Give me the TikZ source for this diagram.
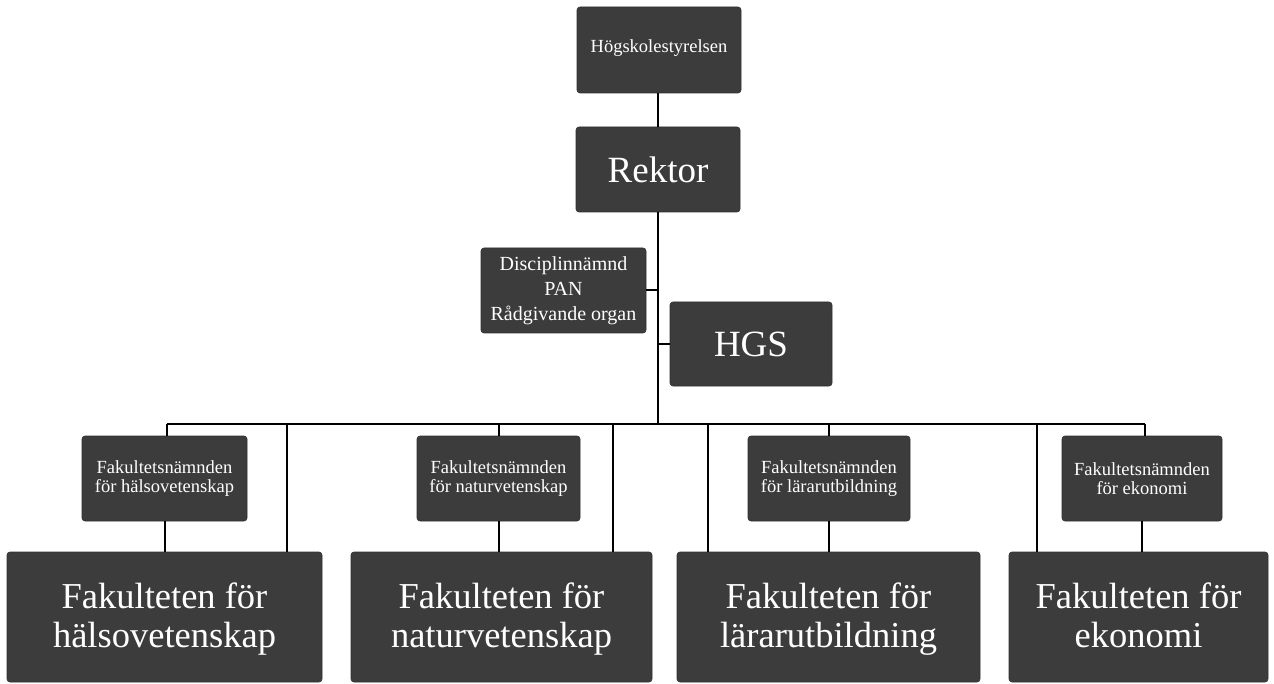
\documentclass[tikz,border=0pt]{standalone}
\usepackage{fontspec}
\setmainfont{Liberation Serif}
\newfontfamily\orgserif{Liberation Serif}
\definecolor{boxgray}{RGB}{60,60,60}
\tikzset{
  orgbox/.style={fill=boxgray, draw=boxgray!80!black, line width=0.6pt, rounded corners=3pt,
    text=white, align=center, inner sep=0pt, anchor=center},
  smalltext/.style={font=\orgserif\fontsize{18.5}{23}\selectfont},
  disctext/.style={font=\orgserif\fontsize{20}{25}\selectfont},
  midtext/.style={font=\orgserif\fontsize{18.5}{19}\selectfont},
  bigtext/.style={font=\orgserif\fontsize{37}{40}\selectfont},
  hugelabel/.style={text=white, align=center, inner sep=0pt, yshift=-2pt,
    font=\orgserif\fontsize{36.5}{39}\selectfont},
  conn/.style={draw=black, line width=2pt}
}
\begin{document}
\begin{tikzpicture}[x=1pt,y=-1pt]
\useasboundingbox (0,0) rectangle (1274,684);
% top
\node[orgbox, smalltext, minimum width=164pt, minimum height=86pt, text height=13pt, text depth=8pt] (hsty) at (659,50) {Högskolestyrelsen};
\node[orgbox, bigtext, minimum width=164pt, minimum height=85pt] (rektor) at (658,169.5) {Rektor};
\node[orgbox, disctext, minimum width=165pt, minimum height=85pt] (disc) at (563.5,290.5) {Disciplinnämnd\\PAN\\Rådgivande organ};
\node[orgbox, bigtext, minimum width=162pt, minimum height=84pt] (hgs) at (751,344) {HGS};
% nämnder
\node[orgbox, midtext, minimum width=165pt, minimum height=85pt] (n1) at (164.5,478.5) {Fakultetsnämnden\\för hälsovetenskap};
\node[orgbox, midtext, minimum width=163pt, minimum height=85pt] (n2) at (498.5,478.5) {Fakultetsnämnden\\för naturvetenskap};
\node[orgbox, midtext, minimum width=162pt, minimum height=85pt] (n3) at (829,478.5) {Fakultetsnämnden\\för lärarutbildning};
\node[orgbox, midtext, minimum width=160pt, minimum height=85pt] (n4) at (1142,478.5) {Fakultetsnämnden\\för ekonomi};
% fakulteter
\node[orgbox, minimum width=315pt, minimum height=130pt,
  label={[hugelabel]center:{Fakulteten för\\hälsovetenskap}}] (f1) at (164.5,617) {};
\node[orgbox, minimum width=301pt, minimum height=130pt,
  label={[hugelabel]center:{Fakulteten för\\naturvetenskap}}] (f2) at (501.5,617) {};
\node[orgbox, minimum width=303pt, minimum height=130pt,
  label={[hugelabel]center:{Fakulteten för\\lärarutbildning}}] (f3) at (828.5,617) {};
\node[orgbox, minimum width=259pt, minimum height=130pt,
  label={[hugelabel]center:{Fakulteten för\\ekonomi\vphantom{lp}}}] (f4) at (1138.5,617) {};
% bus coordinates
\coordinate (bmain) at (658,424);
\coordinate (bl) at (167,424);
\coordinate (br) at (1145,424);
\coordinate (b1) at (287,424);
\coordinate (b2) at (613,424);
\coordinate (b3) at (708,424);
\coordinate (b4) at (1037,424);
% connectors
\draw[conn] (hsty.south -| bmain) -- (rektor.north -| bmain);
\draw[conn] (rektor.south -| bmain) -- (bmain);
\draw[conn] (disc.east) -- (disc.east -| bmain);
\draw[conn] (hgs.west) -- (hgs.west -| bmain);
\draw[conn] (bl) -- (br);
\draw[conn] (bl) -- (bl |- n1.north);
\draw[conn] (n2.north |- bl) -- (n2.north);
\draw[conn] (n3.north |- bl) -- (n3.north);
\draw[conn] (br) -- (br |- n4.north);
\draw[conn] (n1.south) -- (n1.south |- f1.north);
\draw[conn] (n2.south) -- (n2.south |- f2.north);
\draw[conn] (n3.south) -- (n3.south |- f3.north);
\draw[conn] (n4.south) -- (n4.south |- f4.north);
\draw[conn] (b1) -- (b1 |- f1.north);
\draw[conn] (b2) -- (b2 |- f2.north);
\draw[conn] (b3) -- (b3 |- f3.north);
\draw[conn] (b4) -- (b4 |- f4.north);
\end{tikzpicture}
\end{document}
